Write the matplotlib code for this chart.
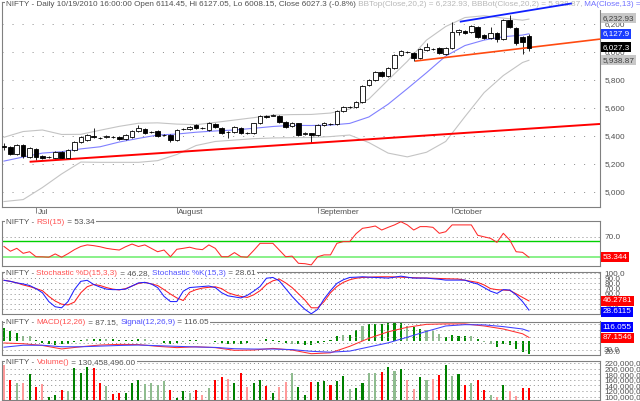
import matplotlib
matplotlib.use('Agg')
import matplotlib.pyplot as plt
import matplotlib.transforms as mtransforms
from matplotlib.patches import Rectangle
import numpy as np

plt.rcParams['font.family'] = ['Liberation Sans', 'DejaVu Sans']
plt.rcParams['lines.scale_dashes'] = False

W, H, DPI = 640, 401, 100
FS = 5.85
DARK = '#505050'

# ---------------- data ----------------
opens = [5330, 5319, 5269, 5334, 5248, 5305, 5255, 5246, 5241, 5284,
         5241, 5298, 5355, 5369, 5398, 5386, 5391, 5392, 5391, 5376,
         5391, 5434, 5448, 5427, 5434, 5407, 5405, 5369, 5447, 5448,
         5476, 5457, 5441, 5484, 5455, 5430, 5426, 5455, 5420, 5417,
         5489, 5543, 5544, 5541, 5500, 5469, 5489, 5412, 5417, 5405,
         5476, 5486, 5484, 5578, 5603, 5605, 5641, 5762, 5798, 5855,
         5826, 5883, 5976, 6000, 5990, 5955, 6012, 6020, 6026, 5983,
         6026, 6140, 6148, 6140, 6176, 6119, 6098, 6133, 6090, 6226,
         6169, 6105, 6114.45]
closes = [5322, 5269, 5334, 5255, 5312, 5248, 5241, 5250, 5284, 5241,
          5298, 5355, 5391, 5405, 5391, 5384, 5398, 5390, 5376, 5405,
          5434, 5455, 5419, 5425, 5398, 5402, 5369, 5441, 5449, 5462,
          5455, 5453, 5491, 5462, 5419, 5427, 5462, 5419, 5418, 5489,
          5541, 5537, 5550, 5500, 5464, 5489, 5405, 5419, 5405, 5476,
          5493, 5482, 5578, 5607, 5607, 5641, 5755, 5798, 5855, 5826,
          5883, 5976, 6005, 5996, 5955, 6019, 6033, 6018, 5990, 6026,
          6140, 6155, 6133, 6183, 6105, 6098, 6133, 6090, 6226, 6176,
          6062, 6069, 6027.3]
highs = [5345, 5325, 5340, 5340, 5318, 5312, 5262, 5258, 5290, 5290,
         5305, 5362, 5398, 5410, 5455, 5394, 5403, 5398, 5396, 5410,
         5440, 5476, 5455, 5434, 5440, 5412, 5410, 5446, 5456, 5468,
         5482, 5462, 5497, 5490, 5460, 5436, 5468, 5460, 5428, 5494,
         5548, 5550, 5556, 5548, 5506, 5495, 5494, 5425, 5422, 5482,
         5498, 5492, 5584, 5612, 5612, 5648, 5762, 5805, 5862, 5862,
         5890, 5982, 6012, 6006, 5996, 6026, 6062, 6026, 6032, 6032,
         6214, 6162, 6156, 6190, 6182, 6126, 6176, 6140, 6233, 6262,
         6176, 6112, 6127.05]
lows = [5300, 5262, 5262, 5241, 5240, 5228, 5232, 5238, 5236, 5236,
        5236, 5292, 5350, 5364, 5385, 5378, 5386, 5384, 5370, 5372,
        5386, 5430, 5414, 5418, 5392, 5396, 5353, 5364, 5440, 5444,
        5450, 5448, 5436, 5456, 5412, 5384, 5420, 5412, 5410, 5412,
        5484, 5530, 5538, 5494, 5458, 5462, 5398, 5405, 5350, 5400,
        5470, 5476, 5480, 5572, 5596, 5600, 5636, 5755, 5792, 5820,
        5820, 5876, 5970, 5990, 5935, 5950, 6006, 6012, 5984, 5976,
        6020, 6119, 6126, 6134, 6098, 6090, 6092, 6071, 6084, 6168,
        6050, 5985, 6008.15]

# indicator lines read at every third bar (plus the last bar)
line_idx = [0, 3, 6, 9, 12, 15, 18, 21, 24, 27, 30, 33, 36, 39, 42, 45, 48,
            51, 54, 57, 60, 63, 66, 69, 72, 75, 78, 81, 82]
bb_top = [5389, 5430, 5441, 5409, 5410, 5439, 5467, 5489, 5492, 5483, 5479,
          5495, 5512, 5529, 5547, 5551, 5552, 5562, 5591, 5662, 5798, 5931,
          6083, 6180, 6244, 6257, 6240, 6225, 6232.93]
bb_bot = [4930, 4944, 5030, 5127, 5212, 5210, 5210, 5210, 5222, 5266, 5330,
          5359, 5369, 5379, 5384, 5386, 5387, 5394, 5405, 5351, 5276, 5249,
          5282, 5359, 5536, 5708, 5830, 5923, 5938.87]
ma13 = [5219, 5248, 5276, 5286, 5306, 5321, 5355, 5381, 5405, 5412, 5425,
        5434, 5441, 5453, 5466, 5474, 5473, 5476, 5488, 5534, 5625, 5736,
        5850, 5969, 6044, 6083, 6107, 6119, 6127.9]
macd = [61.5, 58, 50, 34, 44, 52, 55, 54, 46, 40, 44, 40, 27.5, 29, 36.5, 29,
        12, 16, 46, 83, 113, 134, 147.5, 149.5, 149.5, 140, 126, 104, 87.15]
signal = [42, 51, 51, 44, 44, 47, 50, 52, 49, 46, 43, 41, 35, 33.5, 33.5, 31,
          23, 19, 24, 43, 62, 88, 115, 140, 146, 145, 137, 126, 116.05]

# trend lines drawn on the chart: (bar index, price) end points
support_x, support_y = [4, 93.1], [5214, 5484]
channel_lo_x, channel_lo_y = [64.2, 93.1], [5933, 6090]
channel_hi_x, channel_hi_y = [71.2, 88.7], [6214, 6345]

rsi = [62.2, 58.3, 60.7, 56.6, 57.9, 53.8, 53.7, 53.4, 56.1, 53.4,
       56.3, 59.6, 62.2, 63.5, 62.9, 62.0, 60.7, 59.9, 59.3, 62.0,
       64.2, 62.2, 63.5, 60.7, 57.9, 59.3, 53.8, 59.9, 60.7, 61.6,
       60.2, 59.6, 63.5, 60.7, 53.8, 53.8, 57.2, 53.8, 53.4, 58.9,
       64.8, 64.8, 64.8, 59.3, 53.8, 54.3, 48.4, 48.1, 47.1, 53.8,
       55.3, 55.3, 64.8, 66.2, 66.2, 72.7, 77.1, 77.9, 79.0, 75.7,
       77.9, 79.9, 82.5, 79.9, 75.7, 78.5, 78.5, 77.9, 73.0, 74.3,
       79.9, 79.9, 79.9, 79.9, 71.4, 70.1, 68.9, 65.6, 73.0, 67.5,
       57.9, 57.4, 53.34]
rsi_levels = [66.7, 53.36]

stoch_k = [86, 84, 81, 79, 76, 70, 62, 45, 35, 33,
           45, 68, 84, 86, 78, 73, 69, 68, 68, 69,
           75, 81, 82, 79, 72, 55, 45, 45, 65, 72,
           73, 74, 75, 72, 62, 56, 54, 52, 57, 65,
           74, 90, 91.5, 85, 70, 55, 42, 30, 21.5, 30,
           50, 66, 80, 87, 91.5, 92, 92.8, 92, 91.5, 91,
           90.3, 92, 94, 92, 90.3, 90.3, 90.3, 89, 88, 86.4,
           86.4, 86.4, 86.4, 82, 78.8, 72, 65, 60.7, 68, 67.2,
           58, 45, 28.61]
stoch_d = [86, 84, 81, 77, 74, 70, 66, 55, 46, 40,
           38.5, 44, 62, 73.6, 78, 76, 72, 69, 67.5, 70,
           75, 80, 82, 79, 76, 68, 59.5, 52, 47, 63,
           68, 71, 72.5, 73.5, 70, 62, 58, 55, 53, 58,
           66, 78, 85, 88.4, 81, 72, 60, 48, 33, 33,
           45, 62, 74, 82, 87, 90, 91.5, 92, 92.5, 92.8,
           92.8, 92.5, 92, 91.5, 91, 90.5, 90.3, 90, 89.5, 89,
           88.7, 88.4, 86, 84, 81.9, 77, 70, 68, 67.2, 66.5,
           60, 53, 46.28]

hist = [29, 21, 17, 11, 10, 1, -5, -7, -9, -8,
        -6, -2, 1, 3, 5, 4, 4, 3, 2, 1,
        2, 3, 3, 2, -1, -4, -6, -5, -2, 1,
        1, 0.5, -1, -3, -5, -6, -6, -6, -4, -1,
        2, 3, 1, -2, -4, -6, -8, -10, -10, -4,
        -2, 1, 10, 14, 14, 25, 33, 38, 38, 38,
        42, 44, 40, 33, 30, 26, 25, 21, 15, 8,
        12, 10, 11, 10, 5, -3, -8, -13, -8, -9,
        -18, -24, -28.9]
hist_shade = list("dddllddddd" "dddlddlddd" "ddllddddld" "ddlddddddd"
                  "lddddldddd" "dddlddlddd" "dddlddllld" "dddldllddd" "ddd")

volume_m = [212.7, 158, 148, 148, 179, 134, 143.6, 97.5, 107, 124,
            119, 203, 186, 204, 203, 148, 136, 110, 112, 113.5,
            148, 160.7, 143.6, 148, 140, 155.7, 124, 95, 119, 112,
            124, 107, 131.6, 158, 170, 164, 148, 182.5, 134, 148,
            160.7, 136, 112, 134, 151, 182.5, 134, 107, 151, 151,
            154.5, 140, 154.5, 172.7, 128, 131.6, 148, 182.5, 182.5, 188,
            206.5, 192, 197, 160.7, 128, 170, 160.7, 164, 176, 212.7,
            172.7, 180, 140, 148, 160.7, 122, 107, 97.5, 140, 118,
            103.6, 131.6, 130.458496]
volume_shade = list("prlpgrpggr" "lgggrrlrrg" "ggllllrggl" "rplrrpgrpg"
                    "grgpplggrg" "grgglggllr" "glgppglprg" "lgrlrrlpgp" "prr")

month_idx = [5, 27, 49, 70]
month_labels = ['Jul', 'August', 'September', 'October']
price_ticks = [5000, 5200, 5400, 5600, 5800, 6000, 6200]

# ---------------- figure ----------------
fig = plt.figure(figsize=(W / DPI, H / DPI), dpi=DPI)
fig.patch.set_facecolor('white')
renderer = fig.canvas.get_renderer()


def axes_px(top, bottom, left=2, right=600):
    a = fig.add_axes([left / W, 1 - bottom / H, (right - left) / W, (bottom - top) / H])
    for s in a.spines.values():
        s.set_color('#808080')
        s.set_linewidth(0.8)
    a.tick_params(axis='both', labelsize=FS, labelcolor=DARK, length=0, pad=3)
    a.yaxis.tick_right()
    a.set_xticks([])
    return a


XL = (-0.31, 93.1)
ax = axes_px(2, 207)
ax_rsi = axes_px(221, 266)
ax_sto = axes_px(272, 313.5)
ax_macd = axes_px(321.5, 354.5)
ax_vol = axes_px(361, 400)
for a in (ax, ax_rsi, ax_sto, ax_macd, ax_vol):
    a.set_xlim(*XL)

DOT_MAIN = (0, (0.72, 6.5))
DOT_LOW = (0, (0.72, 2.2))
GRID_C = '#909090'


def text_width(s):
    t = fig.text(0, 0, s + 'x', fontsize=FS)
    w = t.get_window_extent(renderer).width
    t.remove()
    t2 = fig.text(0, 0, 'x', fontsize=FS)
    w2 = t2.get_window_extent(renderer).width
    t2.remove()
    return w - w2


def rich(a, x_px, y_px, pieces):
    full = ''.join(s for s, _ in pieces)
    wfull = text_width(full)
    rect = Rectangle(((x_px - 1.5) / W, 1 - (y_px + 4.5) / H), (wfull + 3) / W, 9 / H,
                     transform=fig.transFigure, facecolor='white', edgecolor='none',
                     zorder=5, clip_on=False)
    a.add_patch(rect)
    Y = 1 - y_px / H
    prefix = ''
    for s, col in pieces:
        off = text_width(prefix) if prefix else 0
        a.text((x_px + off) / W, Y, s, transform=fig.transFigure, fontsize=FS, color=col,
               va='center', ha='left', zorder=5.5, clip_on=False)
        prefix += s


def value_box(a, val, s, fc, tc, dy=0):
    tr = mtransforms.blended_transform_factory(a.transAxes, a.transData)
    tr = mtransforms.offset_copy(tr, fig=fig, x=0, y=dy, units='dots')
    a.text(1.0045, val, s, transform=tr, fontsize=FS, color=tc, va='center', ha='left',
           zorder=8, clip_on=False,
           bbox=dict(facecolor=fc, edgecolor='none', pad=0.18, boxstyle='square'))


# ---------------- main price pane ----------------
ax.set_ylim(4891, 6355)
ax.set_yticks(price_ticks)
ax.set_yticklabels([f'{v:,}' for v in price_ticks])
for v in price_ticks:
    ax.axhline(v, color=GRID_C, lw=0.72, ls=DOT_MAIN, zorder=1)

xb = np.arange(len(closes))
o = np.array(opens, float)
c = np.array(closes, float)
up = c >= o
body_lo = np.minimum(o, c)
body_h = np.maximum(np.abs(c - o), 1.5)
ax.vlines(xb, lows, highs, color='black', lw=0.6, zorder=3)
ax.bar(xb, body_h, bottom=body_lo, width=0.72,
       color=['white' if u else 'black' for u in up], edgecolor='black', lw=0.6, zorder=4)

ax.plot(line_idx, bb_top, color='#c4c4c4', lw=0.8, zorder=2)
ax.plot(line_idx, bb_bot, color='#c4c4c4', lw=0.8, zorder=2)
ax.plot(line_idx, ma13, color='#8080ff', lw=0.8, zorder=2)
ax.plot(support_x, support_y, color='#ff0000', lw=1.4, zorder=3.5, solid_capstyle='butt')
ax.plot(channel_lo_x, channel_lo_y, color='#ff4a10', lw=1.2, zorder=3.5, solid_capstyle='butt')
ax.plot(channel_hi_x, channel_hi_y, color='#1020ff', lw=1.3, zorder=6, clip_on=False,
        solid_capstyle='butt')

ax.set_xticks(month_idx)
ax.set_xticklabels([])
ax.tick_params(axis='x', direction='out', length=4, width=0.6, color='#707070')
trx = mtransforms.blended_transform_factory(ax.transData, fig.transFigure)
for m, lab in zip(month_idx, month_labels):
    ax.text(m, 1 - 212.3 / H, lab,
            transform=mtransforms.offset_copy(trx, fig=fig, x=1.5, y=0, units='dots'),
            fontsize=FS, color=DARK, va='center', ha='left', clip_on=False)

rich(ax, 6, 5, [
    ('NIFTY - Daily 10/19/2010 16:00:00 Open 6114.45, Hi 6127.05, Lo 6008.15, Close 6027.3 (-0.8%)', DARK),
    (' BBTop(Close,20,2) = 6,232.93, BBBot(Close,20,2) = 5,938.87,', '#b8b8b8'),
    (' MA(Close,13) = 6,127.90', '#7070ff'),
])
value_box(ax, bb_top[-1], '6,232.93', '#c8c8c8', '#404040', dy=1)
value_box(ax, ma13[-1], '6,127.9', '#1a3cff', 'white')
value_box(ax, closes[-1], '6,027.3', 'black', 'white', dy=0.5)
value_box(ax, bb_bot[-1], '5,938.87', '#c8c8c8', '#404040')

# ---------------- RSI pane ----------------
ax_rsi.set_ylim(46.2, 83.1)
ax_rsi.set_yticks([70])
ax_rsi.set_yticklabels(['70.0'])
ax_rsi.axhline(70, color=GRID_C, lw=0.72, ls=DOT_LOW, zorder=1)
ax_rsi.axhline(rsi_levels[0], color='#00d000', lw=1.0, zorder=2)
ax_rsi.axhline(rsi_levels[1], color='#80f080', lw=1.3, zorder=2)
ax_rsi.plot(xb, rsi, color='#ff2a2a', lw=0.75, zorder=3)
rich(ax_rsi, 6, 222.3, [('NIFTY - ', DARK), ('RSI(15)', '#ff5050'), (' = 53.34', DARK)])
value_box(ax_rsi, rsi[-1], '53.344', '#ff0000', 'white')

# ---------------- Stochastic pane ----------------
ax_sto.set_ylim(22, 102)
sto_ticks = [30, 40, 50, 60, 70, 80, 90, 100]
ax_sto.set_yticks(sto_ticks)
ax_sto.set_yticklabels([f'{v:.1f}' for v in sto_ticks])
for v in sto_ticks:
    ax_sto.axhline(v, color=GRID_C, lw=0.72, ls=DOT_LOW, zorder=1)
ax_sto.plot(xb, stoch_d, color='#ff2020', lw=0.75, zorder=3)
ax_sto.plot(xb, stoch_k, color='#2020ff', lw=0.75, zorder=3)
rich(ax_sto, 6, 273.3, [('NIFTY - ', DARK), ('Stochastic %D(15,3,3)', '#ff5050'), (' = 46.28, ', DARK),
                        ('Stochastic %K(15,3)', '#5050ff'), (' = 28.61', DARK)])
value_box(ax_sto, stoch_d[-1], '46.2781', '#ff0000', 'white')
value_box(ax_sto, stoch_k[-1], '28.6115', '#0000ff', 'white', dy=-1.5)

# ---------------- MACD pane ----------------
ax_hist = ax_macd.twinx()
ax_hist.set_xlim(*XL)
ax_hist.set_ylim(-30.4, 42.9)
ax_hist.set_yticks([])
for s in ax_hist.spines.values():
    s.set_visible(False)
ax_hist.set_zorder(ax_macd.get_zorder() - 1)
ax_macd.patch.set_visible(False)
ax_macd.yaxis.tick_right()
ax_macd.yaxis.set_label_position('right')
ax_macd.tick_params(axis='y', labelsize=FS, labelcolor=DARK, length=0, pad=3,
                    left=False, labelleft=False, right=True, labelright=True)
ax_hist.bar(xb, hist, width=0.32,
            color=['#008a00' if s == 'd' else '#8fbc8f' for s in hist_shade], zorder=2)
ax_macd.set_ylim(8.3, 160.6)
ax_macd.set_yticks([20, 30])
ax_macd.set_yticklabels(['20.0', '30.0'])
for v in [30, 60, 90, 120, 150]:
    ax_macd.axhline(v, color=GRID_C, lw=0.72, ls=DOT_LOW, zorder=1)
ax_macd.plot(line_idx, macd, color='#ff3030', lw=0.75, zorder=3)
ax_macd.plot(line_idx, signal, color='#4040ff', lw=0.75, zorder=3)
rich(ax_macd, 6, 322.7, [('NIFTY - ', DARK), ('MACD(12,26)', '#ff5050'), (' = 87.15, ', DARK),
                         ('Signal(12,26,9)', '#5050ff'), (' = 116.05', DARK)])
value_box(ax_macd, signal[-1], '116.055', '#0000ff', 'white', dy=4)
value_box(ax_macd, macd[-1], '87.1546', '#ff0000', 'white', dy=-0.5)

# ---------------- Volume pane ----------------
vol = np.array(volume_m) * 1e6
shade_col = {'r': '#ff0000', 'p': '#ff9a9a', 'g': '#008000', 'l': '#8fbc8f'}
ax_vol.set_ylim(87.5e6, 227.2e6)
vticks = [100e6, 120e6, 140e6, 160e6, 180e6, 200e6, 220e6]
ax_vol.set_yticks(vticks)
ax_vol.set_yticklabels([f'{int(v):,}' for v in vticks])
for v in vticks:
    ax_vol.axhline(v, color=GRID_C, lw=0.72, ls=DOT_LOW, zorder=1)
ax_vol.bar(xb, vol, width=0.32, color=[shade_col[s] for s in volume_shade], zorder=2)
rich(ax_vol, 6, 362.7, [('NIFTY - ', DARK), ('Volume()', '#ff5050'), (' = 130,458,496.00', DARK)])

fig.savefig('out.png', dpi=DPI, facecolor='white')
